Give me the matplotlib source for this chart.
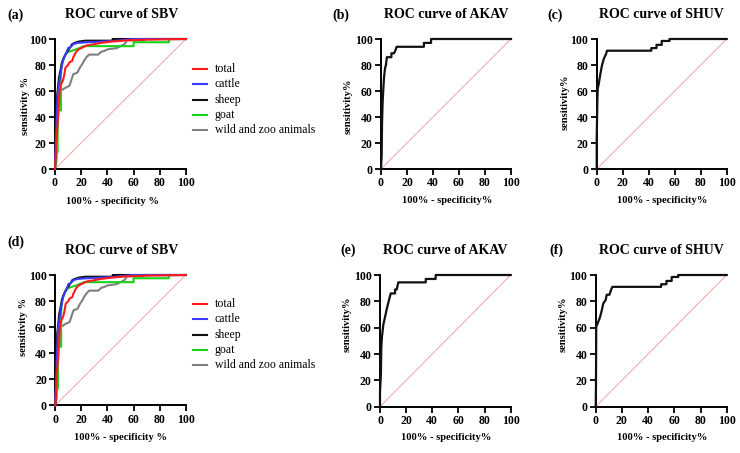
import matplotlib
matplotlib.use("Agg")
import matplotlib.pyplot as plt
from matplotlib.lines import Line2D

W, H = 740, 453
plt.rcParams['font.family'] = ['Liberation Serif', 'DejaVu Serif']

# ---------------- data (FPR = 100% - specificity, TPR = sensitivity) ----------------
total_fpr = [0, 0.5, 1, 2, 3, 3.5, 4.5, 6, 7, 8, 10, 11, 13, 14, 16, 18, 20, 24, 30, 35, 43, 55, 70, 100]
total_tpr = [0, 10, 20, 35, 50, 60, 65, 68, 72, 78, 80, 82, 83, 86, 90, 92, 93, 95, 96, 97, 98, 99, 99.5, 100]

cattle_fpr = [0, 0.5, 1, 1.5, 2, 3, 4, 5, 6, 7, 8, 9, 10, 12, 14, 17, 25, 45, 55, 60, 100]
cattle_tpr = [0, 15, 30, 45, 58, 65, 72, 78, 83, 86, 88, 90, 93, 94, 96, 97, 97.5, 98.5, 99.5, 100, 100]

sheep_fpr = [0, 0.3, 0.8, 1.5, 2.5, 3, 4, 5, 6, 7, 8, 9, 10, 11, 12, 13, 15, 18, 23, 44, 44, 100]
sheep_tpr = [0, 20, 40, 55, 65, 70, 75, 80, 84, 86, 88, 90, 91, 93, 94, 96, 97, 98, 98.7, 98.7, 100, 100]

goat_fpr = [0, 1, 1.5, 2, 2, 2.5, 4.5, 4.5, 5, 6, 7, 8, 10, 13, 16, 22, 60, 60, 87, 87, 100]
goat_tpr = [0, 5, 13, 13, 30, 45, 45, 70, 81, 83, 86, 88, 90, 91, 92, 94.5, 94.5, 97.5, 97.5, 100, 100]

wild_fpr = [0, 0.5, 1, 2, 3, 3.5, 6, 7, 9, 11, 12, 13, 14, 17, 18, 19, 21, 22, 24, 26, 33, 35, 38, 40, 47, 53, 55, 68, 68, 100]
wild_tpr = [0, 8, 35, 45, 55, 61, 61, 62, 63, 64, 67, 70, 73, 74, 76, 78, 81, 83, 86, 88, 88, 90, 91, 92, 93, 96, 99, 99, 100, 100]

akav_b_fpr = [0, 0.5, 0.8, 1.2, 1.7, 2.3, 2.8, 3.2, 3.8, 4.5, 8, 8, 10, 11, 12, 33, 33, 38.5, 38.5, 100]
akav_b_tpr = [0, 10, 35, 50, 60, 70, 75, 78, 80, 86, 86, 89, 89, 91, 94, 94, 97, 97, 100, 100]

shuv_c_fpr = [0, 0, 0.5, 0.8, 1.5, 2.8, 4, 5.4, 7.2, 7.9, 42, 42, 46, 46, 50, 50, 56, 56, 100]
shuv_c_tpr = [0, 24, 52, 62, 65, 73, 79.5, 84.6, 88.5, 91, 91, 93, 93, 95.5, 95.5, 98.5, 98.5, 100, 100]

akav_e_fpr = [0, 0, 0.7, 1, 1.5, 2.5, 3.8, 5.6, 6.9, 8.2, 11.5, 11.5, 12.8, 14, 35, 35, 42.6, 42.6, 100]
akav_e_tpr = [0, 11, 25, 45, 53, 62, 68, 76, 81, 86, 86, 89, 89, 94.4, 94.4, 97, 97, 100, 100]

shuv_f_fpr = [0, 0.2, 0.4, 2, 3.3, 4.6, 5.8, 7.6, 8.4, 10.5, 11.7, 12.7, 50, 50, 54, 54, 58, 58, 63, 63, 100]
shuv_f_tpr = [0, 15, 60.7, 64.5, 68, 73, 78.5, 81, 85, 85, 88.6, 91, 91, 93, 93, 95.5, 95.5, 98.5, 98.5, 100, 100]

sbv_series = [("total", total_fpr, total_tpr, "#ff1a1a"),
              ("cattle", cattle_fpr, cattle_tpr, "#3a3aff"),
              ("sheep", sheep_fpr, sheep_tpr, "#111111"),
              ("goat", goat_fpr, goat_tpr, "#19d219"),
              ("wild and zoo animals", wild_fpr, wild_tpr, "#7f7f7f")]

ticks = [0, 20, 40, 60, 80, 100]

fig = plt.figure(figsize=(W / 100, H / 100), dpi=100)


def px_axes(x0, x1, ytop, ybot):
    return fig.add_axes([x0 / W, 1 - ybot / H, (x1 - x0) / W, (ybot - ytop) / H])


def style(ax):
    ax.set_xlim(0, 100)
    ax.set_ylim(0, 100)
    ax.set_xticks(ticks)
    ax.set_yticks(ticks)
    for s in ("top", "right"):
        ax.spines[s].set_visible(False)
    for s in ("left", "bottom"):
        ax.spines[s].set_linewidth(1.4)
    ax.tick_params(length=4, width=1.3, labelsize=8.5, pad=2)
    for lab in ax.get_xticklabels() + ax.get_yticklabels():
        lab.set_fontweight("bold")
    ax.plot([0, 100], [0, 100], color="#f4a3a3", lw=0.7, zorder=1)


def ftext(x, y, s, **kw):
    fig.text(x / W, 1 - y / H, s, **kw)


# panel geometry in pixels: (x0, x1, ytop, ybot)
geo = {
    "a": (55, 186, 39, 169),
    "b": (381, 511, 39, 169),
    "c": (596.7, 726.7, 39, 169),
    "d": (55.3, 185.7, 275, 405.3),
    "e": (380, 510.7, 275, 406.7),
    "f": (595.7, 726.7, 275, 406.7),
}

axes = {k: px_axes(*v) for k, v in geo.items()}
for ax in axes.values():
    style(ax)

for key in ("a", "d"):
    ax = axes[key]
    for name, fx, ty, col in sbv_series[::-1]:
        ax.plot(fx, ty, color=col, lw=1.5, clip_on=False, zorder=3)

axes["b"].plot(akav_b_fpr, akav_b_tpr, color="#111111", lw=1.6, clip_on=False, zorder=3)
axes["c"].plot(shuv_c_fpr, shuv_c_tpr, color="#111111", lw=1.6, clip_on=False, zorder=3)
axes["e"].plot(akav_e_fpr, akav_e_tpr, color="#111111", lw=1.6, clip_on=False, zorder=3)
axes["f"].plot(shuv_f_fpr, shuv_f_tpr, color="#111111", lw=1.6, clip_on=False, zorder=3)

# legends (manual, in pixel coordinates)
for y0 in (69, 304):
    for i, (name, fx, ty, col) in enumerate(sbv_series):
        y = y0 + i * 15.3
        fig.add_artist(Line2D([193 / W, 207 / W], [1 - y / H, 1 - y / H], color=col, lw=1.5))
        ftext(215, y, name, fontsize=8.5, va="center", ha="left")

title_kw = dict(fontsize=10, fontweight="bold", ha="center", va="center")
lab_kw = dict(fontsize=10, fontweight="bold", ha="left", va="center")
xl_kw = dict(fontsize=7.6, fontweight="bold", ha="center", va="center")
yl_kw = dict(fontsize=7.6, fontweight="bold", ha="center", va="center", rotation=90)

# panel letters
ftext(7, 15, "(a)", **lab_kw)
ftext(332, 15, "(b)", **lab_kw)
ftext(547, 15, "(c)", **lab_kw)
ftext(7, 242, "(d)", **lab_kw)
ftext(340, 250, "(e)", **lab_kw)
ftext(549, 250, "(f)", **lab_kw)

# titles
ftext(121.5, 15, "ROC curve of SBV", **title_kw)
ftext(445.8, 15, "ROC curve of AKAV", **title_kw)
ftext(661, 15, "ROC curve of SHUV", **title_kw)
ftext(121.7, 250, "ROC curve of SBV", **title_kw)
ftext(445, 250, "ROC curve of AKAV", **title_kw)
ftext(661, 250, "ROC curve of SHUV", **title_kw)

# x labels
ftext(113, 201.5, "100% - specificity %", **xl_kw)
ftext(446.7, 200, "100% - specificity%", **xl_kw)
ftext(661.7, 200, "100% - specificity%", **xl_kw)
ftext(120, 438, "100% - specificity %", **xl_kw)
ftext(446, 437, "100% - specificity%", **xl_kw)
ftext(662, 438, "100% - specificity%", **xl_kw)

# y labels
ftext(25, 106, "sensitivity %", **yl_kw)
ftext(348, 106, "sensitivity%", **yl_kw)
ftext(565, 102, "sensitivity%", **yl_kw)
ftext(23, 327, "sensitivity %", **yl_kw)
ftext(347, 324, "sensitivity%", **yl_kw)
ftext(563, 324, "sensitivity%", **yl_kw)

fig.savefig("out.png", dpi=100)
